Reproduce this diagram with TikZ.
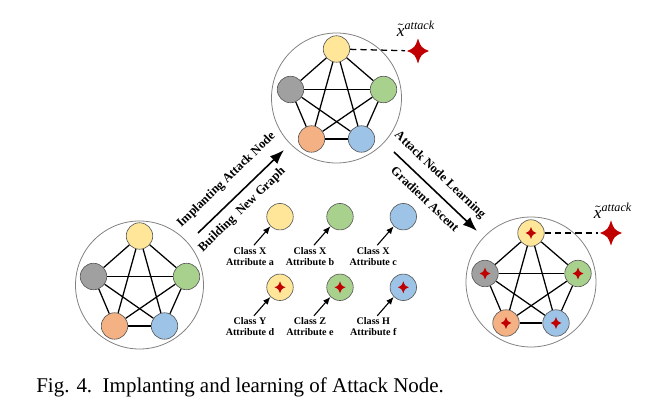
\documentclass[tikz,border=0pt]{standalone}
\usepackage{amsmath}
\usepackage{fontspec}
\setmainfont{Liberation Serif}
\usetikzlibrary{positioning,arrows.meta}

\definecolor{nyellow}{HTML}{FFE699}
\definecolor{ngreen}{HTML}{A9D18E}
\definecolor{nblue}{HTML}{9DC3E6}
\definecolor{norange}{HTML}{F4B183}
\definecolor{ngray}{HTML}{A0A0A0}
\definecolor{nred}{HTML}{C00000}

% etoile a quatre branches (rayons horizontal et vertical)
\newcommand{\sparkle}[2]{%
  \fill[nred,shift={(path picture bounding box.center)}]
    (0,#2) .. controls (0.28*#1,0.28*#2) .. (#1,0) .. controls (0.28*#1,-0.28*#2) .. (0,-#2)
    .. controls (-0.28*#1,-0.28*#2) .. (-#1,0) .. controls (-0.28*#1,0.28*#2) .. cycle;}

\tikzset{
  vtx/.style={circle,draw=black!65,line width=0.4pt,minimum size=5.9mm,inner sep=0pt},
  ring/.style={draw=black!50,line width=0.5pt},
  link/.style={line width=0.8pt},
  bigstar/.style={circle,inner sep=0pt,minimum size=5.6mm,path picture={\sparkle{11}{12.5}}},
  smallstar/.style={circle,inner sep=0pt,minimum size=2.8mm,path picture={\sparkle{5.5}{6}}},
  lbl/.style={font=\bfseries\fontsize{6.4}{7}\selectfont,align=center,inner sep=1pt},
  steplbl/.style={font=\bfseries\fontsize{8}{9}\selectfont,sloped,inner sep=0pt},
  xlbl/.style={font=\fontsize{11}{12}\selectfont,inner sep=0pt},
  small arrow/.style={line width=0.7pt,-{Latex[length=1.7mm,width=1.4mm]}},
}

\begin{document}
\begin{tikzpicture}[x=0.0223cm,y=-0.0223cm,>={Latex[length=3.2mm,width=2.4mm]}]
\useasboundingbox (0,0) rectangle (669,402);

% graphe de depart
\begin{scope}[shift={(139.5,285)}]
  \draw[ring] (0,0) circle (64);
  \foreach \n/\c/\p in {1/nyellow/{0,-49},2/ngray/{-46,-8.5},3/ngreen/{47,-8.5},4/norange/{-25,41},5/nblue/{25,41}}
    \node[vtx,fill=\c] (L\n) at (\p) {};
  \foreach \i/\j in {1/2,1/3,1/4,1/5,2/3,2/4,2/5,3/4,3/5,4/5}
    \draw[link] (L\i) -- (L\j);
\end{scope}

% nouveau graphe
\begin{scope}[shift={(336.5,98)}]
  \draw[ring] (0,0) circle (65);
  \foreach \n/\c/\p in {1/nyellow/{0,-49},2/ngray/{-46,-8.5},3/ngreen/{47,-8.5},4/norange/{-25,41},5/nblue/{25,41}}
    \node[vtx,fill=\c] (T\n) at (\p) {};
  \foreach \i/\j in {1/2,1/3,1/4,1/5,2/3,2/4,2/5,3/4,3/5,4/5}
    \draw[link] (T\i) -- (T\j);
\end{scope}
\node[bigstar] (sT) at (418,51) {};
\node[xlbl,above=1pt of sT,xshift=-1.3pt] (xT) {$\tilde{\textit{x}}^{\textit{attack}}$};
\draw[link,dashed,dash pattern=on 4pt off 2.5pt] (T1) -- (sT);

% graphe appris
\begin{scope}[shift={(531,282)}]
  \draw[ring] (0,0) circle (65);
  \foreach \n/\c/\p in {1/nyellow/{0,-49},2/ngray/{-46,-8.5},3/ngreen/{47,-8.5},4/norange/{-25,41},5/nblue/{25,41}} {
    \node[vtx,fill=\c] (R\n) at (\p) {};
    \node[smallstar] (Rs\n) at (R\n) {};
  }
  \foreach \i/\j in {1/2,1/3,1/4,1/5,2/3,2/4,2/5,3/4,3/5,4/5}
    \draw[link] (R\i) -- (R\j);
\end{scope}
\node[bigstar] (sR) at (611,233) {};
\node[xlbl,above=1pt of sR,xshift=1.3pt] (xR) {$\tilde{\textit{x}}^{\textit{attack}}$};
\draw[link,dashed,dash pattern=on 4pt off 2.5pt] (R1) -- (sR);

% fleches
\coordinate (a1s) at (198,233);
\coordinate (a1e) at (284,150);
\draw[line width=1pt,->] (a1s) -- node[steplbl,pos=0.48,above=7.5pt] {Implanting Attack Node}
  node[steplbl,pos=0.40,below=4.8pt] {Building~ New Graph} (a1e);
\coordinate (a2s) at (394,152);
\coordinate (a2e) at (477,231);
\draw[line width=1pt,->] (a2s) -- node[steplbl,pos=0.43,above=5.2pt] {Attack Node Learning}
  node[steplbl,pos=0.48,below=4.6pt] {Gradient Ascent} (a2e);

% noeuds isoles
\foreach \n/\c/\x/\y/\cl/\at in {a/nyellow/280/216.7/X/a, b/ngreen/340/216.7/X/b, c/nblue/403.3/216.7/X/c,
    d/nyellow/280/287.3/Y/d, e/ngreen/340/287.3/Z/e, f/nblue/403.3/287.3/H/f} {
  \node[vtx,fill=\c] (M\n) at (\x,\y) {};
  \node[lbl] (l\n) at (\x-30,\y+39.5) {Class \cl\\Attribute \at};
  \draw[small arrow] ([xshift=2.5pt]l\n.north) -- (M\n.225);
}
\foreach \n in {d,e,f}
  \node[smallstar] (Ms\n) at (M\n) {};

\node[anchor=base west,font=\fontsize{13.3}{15}\selectfont,inner sep=0pt] (cap) at (36,393)
  {Fig. 4.\enspace Implanting and learning of Attack Node.};
\end{tikzpicture}
\end{document}
